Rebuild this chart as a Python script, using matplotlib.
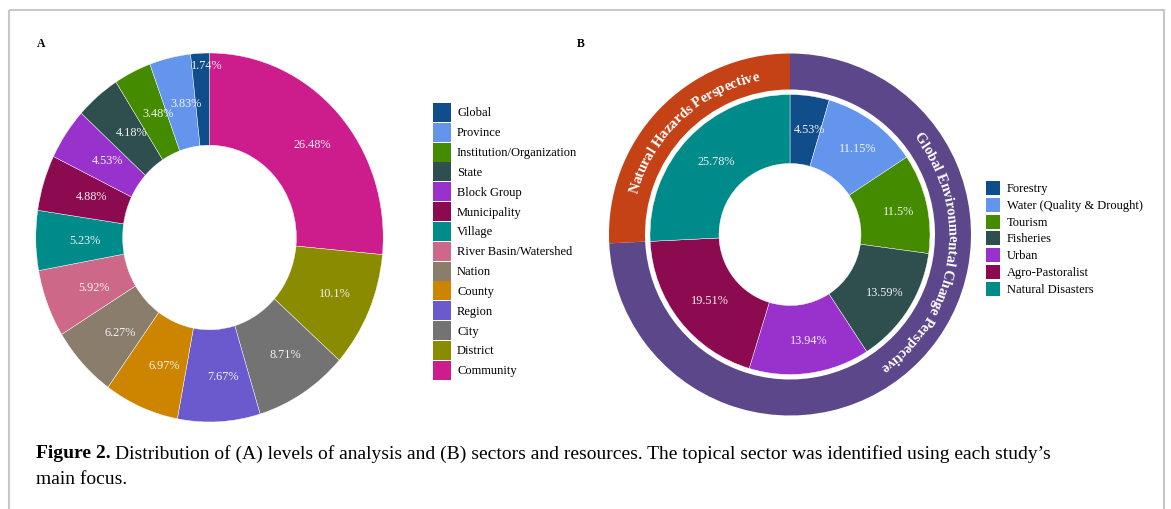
"""Figure 2: two donut charts - levels of analysis and sectors/resources."""
import numpy as np
import matplotlib.pyplot as plt
import matplotlib.transforms as mtransforms
from matplotlib.patches import Rectangle
from matplotlib.font_manager import FontProperties

plt.rcParams['font.family'] = ['Liberation Serif', 'DejaVu Serif']

# Panel A: levels of analysis, clockwise from 12 o'clock
levels = ['Community', 'District', 'City', 'Region', 'County', 'Nation',
          'River Basin/Watershed', 'Village', 'Municipality', 'Block Group',
          'State', 'Institution/Organization', 'Province', 'Global']
level_pct = [26.48, 10.1, 8.71, 7.67, 6.97, 6.27, 5.92, 5.23, 4.88, 4.53,
             4.18, 3.48, 3.83, 1.74]
level_colors = ['#CD1D8D', '#8B8B00', '#737373', '#6A5ACD', '#CD8500',
                '#8B7D6B', '#CD6889', '#008B8B', '#8B0A50', '#9932CC',
                '#2F4F4F', '#458B00', '#6495ED', '#104E8B']

# Panel B: sectors and resources, clockwise from 12 o'clock
sectors = ['Forestry', 'Water (Quality & Drought)', 'Tourism', 'Fisheries',
           'Urban', 'Agro-Pastoralist', 'Natural Disasters']
sector_pct = [4.53, 11.15, 11.5, 13.59, 13.94, 19.51, 25.78]
sector_colors = ['#104E8B', '#6495ED', '#458B00', '#2F4F4F', '#9932CC',
                 '#8B0A50', '#008B8B']

# Panel B outer ring: perspectives
perspectives = ['Global Environmental Change Perspective', 'Natural Hazards Perspective']
perspective_pct = [74.22, 25.78]
perspective_colors = ['#5D478B', '#C44216']

W, H = 1171, 510
fig = plt.figure(figsize=(W / 100, H / 100), dpi=100)

# full-figure axes in pixel coordinates for the frame, legends and caption
bg = fig.add_axes([0, 0, 1, 1])
bg.set_xlim(0, W)
bg.set_ylim(H, 0)
bg.axis('off')
bg.add_patch(Rectangle((9, 11), 1155, 520, fill=False, edgecolor='#c8c8c8', linewidth=1.5))


def px_axes(cx, cy, rx, ry):
    """Axes placed by centre and radii in pixels (y from top)."""
    return fig.add_axes([(cx - rx) / W, (H - cy - ry) / H, 2 * rx / W, 2 * ry / H])


def pct_labels(ax, wedges, values, r, r_small, dx):
    shift = ax.transData + mtransforms.ScaledTranslation(dx / 100, 0, fig.dpi_scale_trans)
    for w, v in zip(wedges, values):
        ang = np.deg2rad((w.theta1 + w.theta2) / 2)
        rr = r_small if v < 2 else r   # tiny slices: text pushed outward
        ax.text(rr * np.cos(ang), rr * np.sin(ang), f'{v}%', ha='center', va='center',
                color='#f2f2f2', fontsize=8.8, transform=shift)


# ---- panel A ----
axA = px_axes(209.5, 238.5, 173.7, 184.5)
wedgesA, _ = axA.pie(level_pct, colors=level_colors, startangle=90, counterclock=False,
                     radius=1, wedgeprops=dict(width=0.5, edgecolor='white', linewidth=0.3))
axA.set_aspect('auto')
axA.set_xlim(-1, 1)
axA.set_ylim(-1, 1)
pct_labels(axA, wedgesA, level_pct, 0.75, 0.935, 6)

# ---- panel B ----
R = 181.0
axB = px_axes(790, 235.5, R, R)
wedgesB, _ = axB.pie(sector_pct, colors=sector_colors, startangle=90, counterclock=False,
                     radius=140 / R, wedgeprops=dict(width=69 / R, edgecolor='white', linewidth=0.3))
axB.pie(perspective_pct, colors=perspective_colors, startangle=90, counterclock=False,
        radius=1, wedgeprops=dict(width=36 / R, edgecolor='none'))
axB.set_xlim(-1, 1)
axB.set_ylim(-1, 1)
pct_labels(axB, wedgesB, sector_pct, 107 / R, 107 / R, 4)

# curved text along the outer ring
renderer = fig.canvas.get_renderer()
ring_font = FontProperties(family=['Liberation Serif'], weight='bold', size=10.5)


def arc_text(ax, s, r_px, mid_deg):
    widths = [renderer.get_text_width_height_descent(c, ring_font, ismath=False)[0] for c in s]
    total = sum(widths) / r_px
    phi = np.deg2rad(mid_deg) + total / 2
    for c, w in zip(s, widths):
        a = phi - (w / 2) / r_px
        ax.text(r_px / R * np.cos(a), r_px / R * np.sin(a), c, fontproperties=ring_font,
                color='white', rotation=np.rad2deg(a) - 90, rotation_mode='anchor',
                ha='center', va='center_baseline')
        phi -= w / r_px


arc_text(axB, perspectives[1], 163, 133)
arc_text(axB, perspectives[0], 163, -8.3)

# panel letters
bg.text(37, 44, 'A', fontsize=8.5, fontweight='bold', va='center')
bg.text(577, 44, 'B', fontsize=8.5, fontweight='bold', va='center')

# legends (drawn manually to match swatch sizes)
for i, (name, col) in enumerate(zip(levels[::-1], level_colors[::-1])):
    top = 104 + i * 19.82
    bg.add_patch(Rectangle((433, top), 18, 19, facecolor=col, edgecolor='none'))
    bg.text(457, top + 9.5, name, fontsize=9, va='center')

for i, (name, col) in enumerate(zip(sectors, sector_colors)):
    top = 182.3 + i * 16.73
    bg.add_patch(Rectangle((986, top), 14, 14, facecolor=col, edgecolor='none'))
    bg.text(1007, top + 7, name, fontsize=9, va='center')

# caption
cap = bg.text(36, 454, 'Figure 2.', fontsize=14, fontweight='bold', va='center')
bb = cap.get_window_extent(renderer)
bg.text(bb.x1 + 4, 454, 'Distribution of (A) levels of analysis and (B) sectors and resources. '
        'The topical sector was identified using each study\u2019s', fontsize=14, va='center')
bg.text(36, 480, 'main focus.', fontsize=14, va='center')

fig.savefig('out.png', dpi=100)
